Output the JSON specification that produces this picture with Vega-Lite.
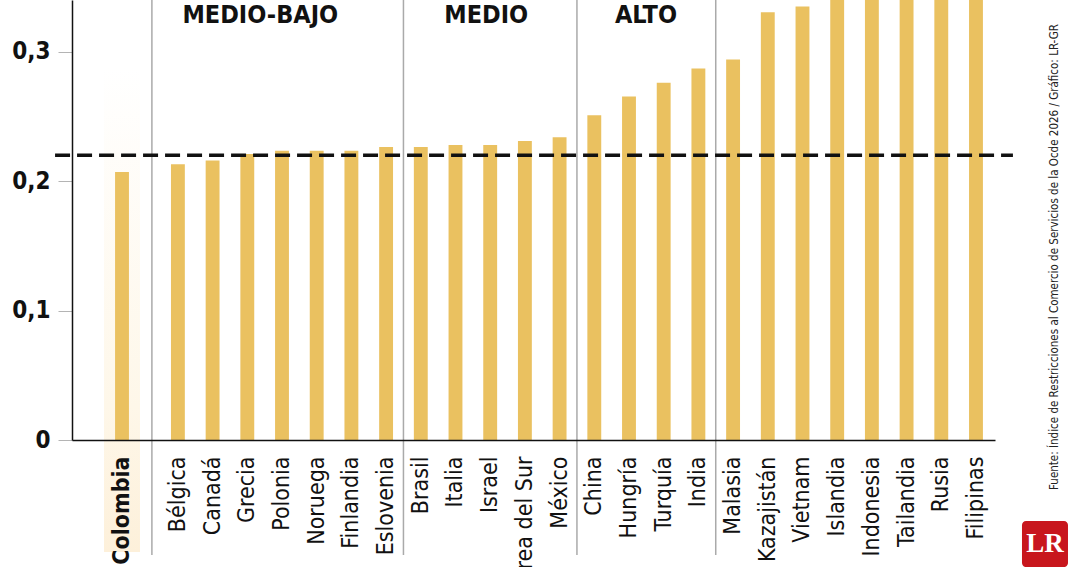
{
  "$schema": "https://vega.github.io/schema/vega-lite/v6.json",
  "autosize": "none",
  "width": 923,
  "height": 440,
  "padding": {"left": 72, "top": 0, "right": 85, "bottom": 127},
  "background": "white",
  "config": {"view": {"stroke": null}, "font": "Liberation Sans Narrow, DejaVu Sans Condensed, Liberation Sans"},
  "datasets": {
    "paises": [
      {"pais": "Colombia", "indice": 0.207},
      {"pais": "Bélgica", "indice": 0.213},
      {"pais": "Canadá", "indice": 0.216},
      {"pais": "Grecia", "indice": 0.221},
      {"pais": "Polonia", "indice": 0.2235},
      {"pais": "Noruega", "indice": 0.2235},
      {"pais": "Finlandia", "indice": 0.2235},
      {"pais": "Eslovenia", "indice": 0.2265},
      {"pais": "Brasil", "indice": 0.2265},
      {"pais": "Italia", "indice": 0.228},
      {"pais": "Israel", "indice": 0.228},
      {"pais": "Corea del Sur", "indice": 0.231},
      {"pais": "México", "indice": 0.234},
      {"pais": "China", "indice": 0.251},
      {"pais": "Hungría", "indice": 0.2655},
      {"pais": "Turquía", "indice": 0.276},
      {"pais": "India", "indice": 0.287},
      {"pais": "Malasia", "indice": 0.294},
      {"pais": "Kazajistán", "indice": 0.3305},
      {"pais": "Vietnam", "indice": 0.335},
      {"pais": "Islandia", "indice": 0.35},
      {"pais": "Indonesia", "indice": 0.37},
      {"pais": "Tailandia", "indice": 0.38},
      {"pais": "Rusia", "indice": 0.4},
      {"pais": "Filipinas", "indice": 0.41}
    ],
    "separadores": [
      {"inicio": "Brasil"},
      {"inicio": "China"},
      {"inicio": "Malasia"}
    ],
    "grupos": [
      {"grupo": "MEDIO-BAJO"},
      {"grupo": "MEDIO"},
      {"grupo": "ALTO"}
    ],
    "fuente": [{"texto": "Fuente: Índice de Restricciones al Comercio de Servicios de la Ocde 2026 / Gráfico: LR-GR"}],
    "uno": [{"k": 1}]
  },
  "data": {"name": "paises"},
  "encoding": {
    "x": {
      "field": "pais",
      "type": "nominal",
      "scale": {
        "domain": ["Colombia", "_gap", "Bélgica", "Canadá", "Grecia", "Polonia", "Noruega", "Finlandia", "Eslovenia", "Brasil", "Italia", "Israel", "Corea del Sur", "México", "China", "Hungría", "Turquía", "India", "Malasia", "Kazajistán", "Vietnam", "Islandia", "Indonesia", "Tailandia", "Rusia", "Filipinas"],
        "paddingInner": 0.6,
        "paddingOuter": 0.6,
        "align": 0.71
      },
      "axis": {
        "title": null,
        "zindex": 1,
        "ticks": false,
        "domainColor": "#111111",
        "domainWidth": 1.5,
        "labelAngle": -90,
        "labelPadding": 16,
        "labelFontSize": 23,
        "labelColor": "#111111",
        "labelFont": "Liberation Sans Narrow, DejaVu Sans Condensed, Liberation Sans",
        "labelFontWeight": {"condition": {"test": "datum.value === 'Colombia'", "value": "bold"}, "value": "normal"},
        "labelOffset": {"condition": {"test": "datum.value === 'Colombia'", "value": 13.5}, "value": 0},
        "labelExpr": "datum.value === '_gap' ? '' : datum.value",
        "labelOverlap": false,
        "labelLimit": 300
      }
    },
    "y": {
      "type": "quantitative",
      "scale": {"domain": [0, 0.34], "nice": false, "zero": true}
    }
  },
  "layer": [
    {
      "data": {"name": "uno"},
      "mark": {
        "type": "bar",
        "width": 36,
        "xOffset": 13.5,
        "clip": false,
        "color": {
          "gradient": "linear",
          "x1": 0, "y1": 0, "x2": 0, "y2": 1,
          "stops": [
            {"offset": 0, "color": "#ffffff"},
            {"offset": 0.7, "color": "#fef7e9"},
            {"offset": 1, "color": "#fdf0da"}
          ]
        }
      },
      "encoding": {
        "x": {"datum": "Colombia", "type": "nominal"},
        "y": {"datum": 0.2875, "type": "quantitative", "axis": {
          "title": null,
          "values": [0, 0.1, 0.2, 0.3],
          "domainColor": "#111111",
          "domainWidth": 1.5,
          "tickColor": "#b4b4b4",
          "tickSize": 14,
          "gridColor": "#b4b4b4",
          "gridWidth": 1,
          "labelPadding": 8,
          "labelFontSize": 24,
          "labelFontWeight": "bold",
          "labelColor": "#111111",
          "labelFont": "Liberation Sans Narrow, DejaVu Sans Condensed, Liberation Sans",
          "labelExpr": "datum.value === 0 ? '0' : replace(format(datum.value, '.1f'), '.', ',')"
        }},
        "y2": {"datum": -0.0865}
      }
    },
    {
      "data": {"name": "separadores"},
      "mark": {"type": "rule", "color": "#aaaaaa", "strokeWidth": 1.5, "xOffset": -17.35, "clip": false},
      "encoding": {
        "x": {"field": "inicio", "type": "nominal"},
        "y": {"datum": 0.34},
        "y2": {"datum": -0.0889}
      }
    },
    {
      "data": {"name": "uno"},
      "mark": {"type": "rule", "color": "#aaaaaa", "strokeWidth": 1.5, "xOffset": -26, "clip": false},
      "encoding": {
        "x": {"datum": "Bélgica", "type": "nominal"},
        "y": {"datum": 0.34},
        "y2": {"datum": -0.0889}
      }
    },
    {
      "mark": {"type": "bar", "color": "#eac160", "clip": true},
      "transform": [{"filter": "datum.pais !== 'Colombia'"}],
      "encoding": {
        "y": {"field": "indice", "type": "quantitative"}
      }
    },
    {
      "mark": {"type": "bar", "color": "#eac160", "clip": true, "xOffset": 13.5},
      "transform": [{"filter": "datum.pais === 'Colombia'"}],
      "encoding": {
        "y": {"field": "indice", "type": "quantitative"}
      }
    },
    {
      "data": {"name": "uno"},
      "mark": {"type": "rule", "color": "#111111", "strokeWidth": 3.5, "strokeDash": [15, 7], "xOffset": -46.5, "x2Offset": 30, "clip": false},
      "encoding": {
        "x": {"datum": "Colombia", "type": "nominal", "bandPosition": 0},
        "x2": {"datum": "Filipinas", "bandPosition": 1},
        "y": {"datum": 0.22}
      }
    },
    {
      "data": {"name": "grupos"},
      "transform": [{"filter": "datum.grupo === 'MEDIO-BAJO'"}],
      "mark": {"type": "text", "fontSize": 25, "fontWeight": "bold", "color": "#111111", "baseline": "alphabetic", "align": "center", "xOffset": 13},
      "encoding": {"text": {"field": "grupo"}, "x": {"datum": "Grecia", "type": "nominal"}, "y": {"datum": 0.3222}}
    },
    {
      "data": {"name": "grupos"},
      "transform": [{"filter": "datum.grupo === 'MEDIO'"}],
      "mark": {"type": "text", "fontSize": 25, "fontWeight": "bold", "color": "#111111", "baseline": "alphabetic", "align": "center", "xOffset": -4},
      "encoding": {"text": {"field": "grupo"}, "x": {"datum": "Israel", "type": "nominal"}, "y": {"datum": 0.3222}}
    },
    {
      "data": {"name": "grupos"},
      "transform": [{"filter": "datum.grupo === 'ALTO'"}],
      "mark": {"type": "text", "fontSize": 25, "fontWeight": "bold", "color": "#111111", "baseline": "alphabetic", "align": "center", "xOffset": 17},
      "encoding": {"text": {"field": "grupo"}, "x": {"datum": "Hungría", "type": "nominal"}, "y": {"datum": 0.3222}}
    },
    {
      "data": {"name": "fuente"},
      "mark": {"type": "text", "fontSize": 11.5, "color": "#222222", "angle": 270, "baseline": "middle", "align": "center", "xOffset": 79, "clip": false},
      "encoding": {"text": {"field": "texto"}, "x": {"datum": "Filipinas", "type": "nominal"}, "y": {"datum": 0.1414}}
    },
    {
      "data": {"name": "uno"},
      "mark": {"type": "bar", "color": "#c8161d", "width": 46, "cornerRadius": 4, "xOffset": 69, "clip": false},
      "encoding": {"x": {"datum": "Filipinas", "type": "nominal"}, "y": {"datum": -0.0626}, "y2": {"datum": -0.0982}}
    },
    {
      "data": {"name": "uno"},
      "mark": {"type": "text", "text": "LR", "font": "Liberation Serif, DejaVu Serif", "fontSize": 27, "fontWeight": "bold", "color": "white", "baseline": "middle", "align": "center", "xOffset": 69},
      "encoding": {"x": {"datum": "Filipinas", "type": "nominal"}, "y": {"datum": -0.0804}}
    }
  ]
}
